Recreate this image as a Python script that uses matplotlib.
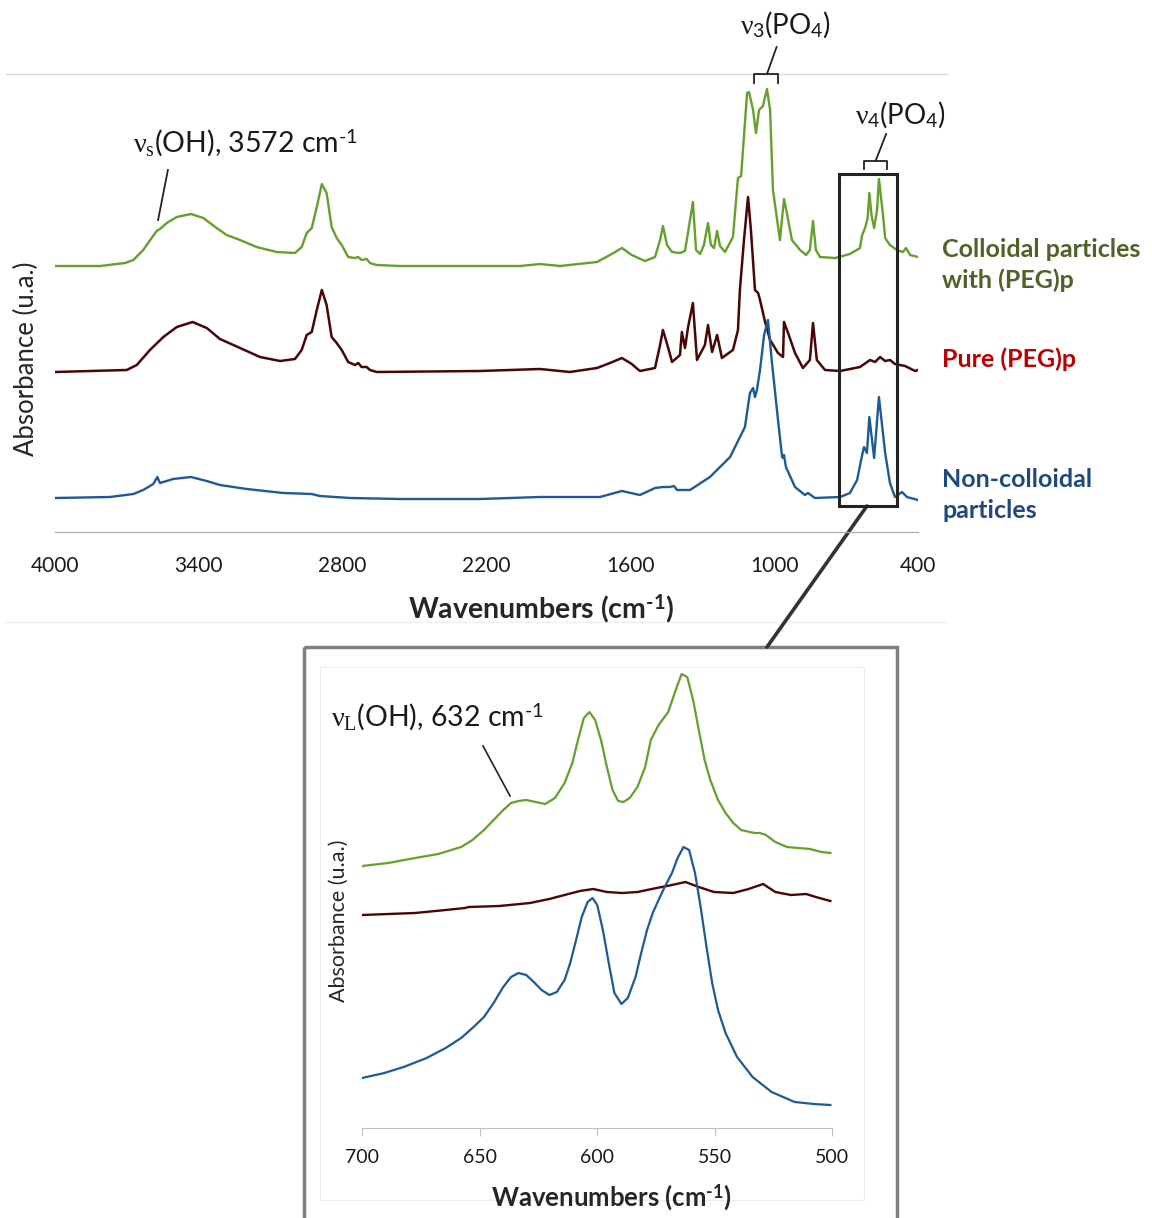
import matplotlib
matplotlib.use("Agg")
import matplotlib.pyplot as plt
from matplotlib.patches import Rectangle, ConnectionPatch

plt.rcParams['font.family'] = ['Lato', 'DejaVu Sans']
plt.rcParams['mathtext.fontset'] = 'custom'
plt.rcParams['mathtext.rm'] = 'Lato'
plt.rcParams['mathtext.it'] = 'Liberation Serif'
plt.rcParams['mathtext.sf'] = 'Lato'
plt.rcParams['mathtext.bf'] = 'Lato:bold'

# ---- full FTIR spectra (wavenumber cm-1, absorbance a.u., offset per trace)
wn_colloid = [4000, 3812, 3708, 3673, 3632, 3597, 3576, 3562, 3534, 3492,
              3433, 3381, 3326, 3284, 3228, 3159, 3075, 2999, 2971, 2950,
              2929, 2908, 2887, 2867, 2846, 2825, 2804, 2777, 2749, 2735,
              2721, 2700, 2686, 2658, 2561, 2227, 2060, 1977, 1893, 1739,
              1685, 1635, 1594, 1539, 1497, 1476, 1464, 1447, 1426, 1393,
              1372, 1359, 1339, 1326, 1309, 1293, 1276, 1264, 1251, 1238,
              1226, 1205, 1172, 1151, 1138, 1113, 1105, 1088, 1076, 1063,
              1047, 1030, 1017, 1005, 976, 959, 947, 926, 892, 867,
              851, 838, 826, 809, 746, 684, 642, 633, 621, 610,
              603, 594, 583, 571, 563, 546, 537, 517, 488, 463,
              450, 433, 400]
abs_colloid = [2.66, 2.66, 2.69, 2.72, 2.82, 2.94, 3.01, 3.03, 3.09, 3.15,
               3.18, 3.14, 3.04, 2.97, 2.92, 2.85, 2.80, 2.79, 2.85, 2.99,
               3.04, 3.25, 3.48, 3.39, 3.05, 2.94, 2.87, 2.75, 2.74, 2.75,
               2.72, 2.73, 2.69, 2.67, 2.66, 2.66, 2.66, 2.68, 2.66, 2.70,
               2.77, 2.84, 2.77, 2.71, 2.75, 2.92, 3.06, 2.87, 2.80, 2.79,
               2.81, 3.00, 3.30, 2.82, 2.78, 2.87, 3.09, 2.87, 2.84, 3.01,
               2.86, 2.80, 2.95, 3.54, 3.56, 4.39, 4.40, 4.22, 3.99, 4.22,
               4.26, 4.43, 4.22, 3.42, 2.92, 3.33, 3.19, 2.92, 2.82, 2.77,
               2.82, 3.11, 2.82, 2.75, 2.74, 2.78, 2.84, 2.97, 3.04, 3.14,
               3.39, 3.17, 3.04, 3.22, 3.53, 3.17, 2.94, 2.87, 2.82, 2.80,
               2.84, 2.77, 2.75]

wn_peg = [4000, 3701, 3659, 3604, 3548, 3492, 3426, 3367, 3312, 3228,
          3145, 3061, 2999, 2971, 2950, 2929, 2908, 2887, 2867, 2846,
          2825, 2804, 2777, 2749, 2735, 2721, 2700, 2686, 2658, 2227,
          1977, 1852, 1739, 1685, 1635, 1594, 1560, 1497, 1476, 1464,
          1443, 1426, 1393, 1385, 1372, 1359, 1339, 1322, 1289, 1276,
          1259, 1238, 1218, 1172, 1151, 1143, 1126, 1109, 1097, 1080,
          1067, 1059, 1038, 1017, 984, 963, 959, 942, 913, 880,
          851, 838, 822, 788, 725, 642, 600, 579, 558, 537,
          517, 496, 454, 412, 400]
abs_peg = [1.60, 1.62, 1.67, 1.82, 1.95, 2.05, 2.10, 2.04, 1.93, 1.84,
           1.75, 1.71, 1.73, 1.82, 1.97, 2.00, 2.22, 2.42, 2.27, 1.95,
           1.89, 1.82, 1.70, 1.67, 1.69, 1.65, 1.65, 1.62, 1.60, 1.61,
           1.63, 1.60, 1.64, 1.69, 1.74, 1.68, 1.61, 1.64, 1.87, 2.02,
           1.85, 1.70, 1.77, 2.00, 1.84, 2.05, 2.29, 1.72, 1.87, 2.07,
           1.80, 1.97, 1.74, 1.82, 2.02, 2.42, 2.92, 3.35, 3.02, 2.42,
           2.39, 2.32, 2.10, 1.92, 1.79, 1.75, 2.10, 1.99, 1.79, 1.64,
           1.72, 2.09, 1.72, 1.62, 1.61, 1.65, 1.72, 1.70, 1.75, 1.71,
           1.72, 1.68, 1.66, 1.61, 1.62]

wn_noncolloid = [4000, 3771, 3673, 3632, 3590, 3573, 3562, 3507, 3433, 3367,
                 3312, 3200, 3048, 2929, 2895, 2769, 2561, 2227, 1977, 1727,
                 1635, 1560, 1497, 1464, 1435, 1418, 1405, 1351, 1268, 1184,
                 1122, 1101, 1088, 1080, 1072, 1059, 1042, 1026, 1009, 984,
                 967, 963, 959, 951, 913, 872, 859, 830, 725, 684,
                 654, 633, 625, 613, 603, 583, 563, 537, 517, 496,
                 467, 446, 400]
abs_noncolloid = [0.34, 0.35, 0.38, 0.42, 0.48, 0.55, 0.49, 0.53, 0.55, 0.51,
                  0.47, 0.43, 0.39, 0.38, 0.36, 0.34, 0.33, 0.33, 0.35, 0.35,
                  0.41, 0.37, 0.44, 0.45, 0.45, 0.46, 0.42, 0.42, 0.55, 0.75,
                  1.05, 1.39, 1.44, 1.35, 1.42, 1.62, 1.97, 2.12, 1.69, 1.12,
                  0.75, 0.74, 0.77, 0.65, 0.45, 0.37, 0.39, 0.34, 0.35, 0.39,
                  0.52, 0.77, 0.85, 0.79, 1.15, 0.74, 1.35, 0.79, 0.49, 0.35,
                  0.40, 0.35, 0.32]

# ---- zoom on the nu4(PO4) region
wn_z_colloid = [700, 688.9, 677.4, 667.6, 657.8, 653.0, 648.1, 644.0, 639.9, 636.6,
                633.4, 630.1, 626.0, 622.0, 617.9, 613.8, 610.5, 608.1, 605.6, 603.2,
                600.8, 598.3, 595.8, 593.4, 591.0, 588.8, 586.1, 582.8, 579.5, 577.1,
                573.8, 569.7, 566.5, 564.0, 561.6, 559.1, 556.7, 554.2, 551.8, 548.5,
                545.3, 542.0, 538.7, 533.0, 530.6, 528.1, 524.1, 519.2, 514.3, 509.4,
                504.5, 500.7]
abs_z_colloid = [2.62, 2.65, 2.70, 2.74, 2.81, 2.88, 2.98, 3.08, 3.18, 3.25,
                 3.27, 3.28, 3.26, 3.24, 3.30, 3.45, 3.65, 3.88, 4.10, 4.16,
                 4.08, 3.88, 3.61, 3.38, 3.27, 3.26, 3.30, 3.41, 3.61, 3.88,
                 4.03, 4.16, 4.38, 4.54, 4.51, 4.28, 3.98, 3.68, 3.48, 3.28,
                 3.15, 3.05, 2.98, 2.95, 2.95, 2.93, 2.86, 2.81, 2.80, 2.79,
                 2.76, 2.75]

wn_z_peg = [700, 677.4, 664.4, 656.2, 654.6, 641.5, 628.5, 620.3, 613.8, 607.3,
            601.6, 595.8, 589.3, 582.8, 574.6, 568.1, 562.4, 556.7, 550.2, 542.0,
            535.5, 529.3, 524.1, 517.5, 511.0, 506.9, 500.7]
abs_z_peg = [2.13, 2.15, 2.18, 2.20, 2.21, 2.22, 2.25, 2.29, 2.33, 2.37,
             2.39, 2.36, 2.35, 2.36, 2.40, 2.43, 2.46, 2.41, 2.36, 2.35,
             2.39, 2.44, 2.36, 2.33, 2.34, 2.31, 2.27]

wn_z_noncolloid = [700, 690.5, 682.3, 672.5, 664.4, 657.8, 653.0, 648.1, 644.0, 639.9,
                   636.6, 633.4, 630.1, 626.9, 623.6, 620.3, 617.1, 613.8, 611.4, 608.9,
                   606.5, 604.0, 601.9, 599.9, 597.5, 595.0, 592.6, 589.6, 586.9, 583.6,
                   581.2, 578.7, 576.3, 573.8, 571.4, 568.1, 565.7, 563.2, 560.8, 558.3,
                   555.9, 553.4, 551.0, 548.5, 545.3, 540.4, 533.8, 525.7, 515.9, 507.7,
                   500.7]
abs_z_noncolloid = [0.50, 0.55, 0.61, 0.70, 0.80, 0.90, 1.00, 1.11, 1.25, 1.41,
                    1.51, 1.55, 1.53, 1.46, 1.38, 1.33, 1.36, 1.48, 1.65, 1.88,
                    2.11, 2.26, 2.30, 2.23, 1.98, 1.65, 1.35, 1.24, 1.30, 1.51,
                    1.75, 1.98, 2.15, 2.28, 2.40, 2.55, 2.70, 2.81, 2.78, 2.55,
                    2.21, 1.81, 1.45, 1.18, 0.95, 0.71, 0.51, 0.36, 0.26, 0.24,
                    0.23]

main_ticks = [4000, 3400, 2800, 2200, 1600, 1000, 400]
zoom_ticks = [700, 650, 600, 550, 500]

GREEN = '#64a12a'
MAROON = '#4a0505'
BLUE = '#1d5a97'
INK = '#1a1a1a'
HY = '\u2010'  # plain hyphen for the "-1" exponent

W, H = 1152, 1218
fig = plt.figure(figsize=(W / 100, H / 100), dpi=100)


def px_box(left, top, right, bottom):
    return [left / W, 1 - bottom / H, (right - left) / W, (bottom - top) / H]


# background layer in pixel units for the chart furniture
bg = fig.add_axes([0, 0, 1, 1], zorder=0)
bg.set_xlim(0, W)
bg.set_ylim(H, 0)
bg.axis('off')
bg.plot([6, 948], [74, 74], color='#d9d9d9', lw=1)
bg.plot([6, 948], [622, 622], color='#f0f0f0', lw=1)
bg.add_patch(Rectangle((304, 647), 593, 600, fill=False, ec='#7f7f7f', lw=2.5))
bg.add_patch(Rectangle((320, 667), 544, 533, fill=False, ec='#ededed', lw=0.8))

# ---- main spectrum
ax = fig.add_axes(px_box(55, 74, 918, 532), zorder=1)
ax.patch.set_visible(False)
ax.plot(wn_colloid, abs_colloid, color=GREEN, lw=1.7)
ax.plot(wn_peg, abs_peg, color=MAROON, lw=1.8)
ax.plot(wn_noncolloid, abs_noncolloid, color=BLUE, lw=1.7)
ax.set_xlim(4000, 400)
ax.set_ylim(0, 4.58)
ax.set_xticks(main_ticks)
ax.set_yticks([])
for s in ['top', 'right', 'left']:
    ax.spines[s].set_visible(False)
ax.spines['bottom'].set_color('#a6a6a6')
ax.tick_params(axis='x', length=0, pad=17, labelsize=15, labelcolor=INK)
ax.set_xlabel('Wavenumbers (cm$^{\\mathbf{' + HY + '1}}$)', fontsize=20.5,
              fontweight='bold', color='#262626')
ax.xaxis.set_label_coords(0.563, -0.133)
ax.set_ylabel('Absorbance (u.a.)', fontsize=18.5, color='#262626')
ax.yaxis.set_label_coords(-0.018, 0.378)

# box around nu4(PO4) region and bracket annotations
ax.add_patch(Rectangle((729, 0.26), 488 - 729, 3.32, fill=False,
                       ec='#222222', lw=2.2, zorder=5))
ax.plot([1085, 1085, 985, 985], [4.49, 4.58, 4.58, 4.49], color='#222222',
        lw=1.3, clip_on=False)
ax.plot([1030, 990], [4.58, 4.85], color='#222222', lw=1.3, clip_on=False)
ax.text(951, 5.07, '$\\nu_{\\mathrm{3}}$(PO$_{\\mathrm{4}}$)', fontsize=20,
        ha='center', va='center', color=INK)
ax.plot([625, 625, 529, 529], [3.63, 3.71, 3.71, 3.63], color='#222222',
        lw=1.3, clip_on=False)
ax.plot([577, 533], [3.71, 3.98], color='#222222', lw=1.3, clip_on=False)
ax.text(475, 4.17, '$\\nu_{\\mathrm{4}}$(PO$_{\\mathrm{4}}$)', fontsize=20,
        ha='center', va='center', color=INK)
ax.plot([3529, 3570], [3.62, 3.12], color='#222222', lw=1.3)
ax.text(3207, 3.89, '$\\nu_{s}$(OH), 3572 cm$^{\\mathrm{' + HY + '1}}$',
        fontsize=20.5, ha='center', va='center', color=INK)

# trace labels
bg.text(942, 265, 'Colloidal particles\nwith (PEG)p', fontsize=18,
        fontweight='bold', color='#4f6228', va='center', linespacing=1.42)
bg.text(942, 359, 'Pure (PEG)p', fontsize=18, fontweight='bold',
        color='#c00000', va='center')
bg.text(942, 495, 'Non-colloidal\nparticles', fontsize=18,
        fontweight='bold', color='#1f497d', va='center', linespacing=1.42)

# ---- zoomed inset
axz = fig.add_axes(px_box(362, 667, 832, 1128), zorder=2)
axz.patch.set_visible(False)
axz.plot(wn_z_colloid, abs_z_colloid, color=GREEN, lw=1.6)
axz.plot(wn_z_peg, abs_z_peg, color=MAROON, lw=1.7)
axz.plot(wn_z_noncolloid, abs_z_noncolloid, color=BLUE, lw=1.6)
axz.set_xlim(700, 500)
axz.set_ylim(0, 4.61)
axz.set_xticks(zoom_ticks)
axz.set_yticks([])
for s in ['top', 'right', 'left']:
    axz.spines[s].set_visible(False)
axz.spines['bottom'].set_color('#bfbfbf')
axz.tick_params(axis='x', direction='out', length=6, color='#bfbfbf',
                pad=9, labelsize=14, labelcolor=INK)
axz.set_xlabel('Wavenumbers (cm$^{\\mathbf{' + HY + '1}}$)', fontsize=18.5,
               fontweight='bold', color='#262626')
axz.xaxis.set_label_coords(0.53, -0.118)
axz.set_ylabel('Absorbance (u.a.)', fontsize=15.5, color='#262626')
axz.yaxis.set_label_coords(-0.027, 0.449)
axz.plot([648.5, 637], [3.82, 3.32], color='#222222', lw=1.2)
axz.text(667.7, 4.11, '$\\nu_{L}$(OH), 632 cm$^{\\mathrm{' + HY + '1}}$',
         fontsize=20.5, ha='center', va='center', color=INK)

# connector from the box to the inset
con = ConnectionPatch(xyA=(613, 0.26), coordsA=ax.transData,
                      xyB=(767, 647), coordsB=bg.transData,
                      color='#333333', lw=2.6)
fig.add_artist(con)

fig.savefig('out.png', dpi=100)
